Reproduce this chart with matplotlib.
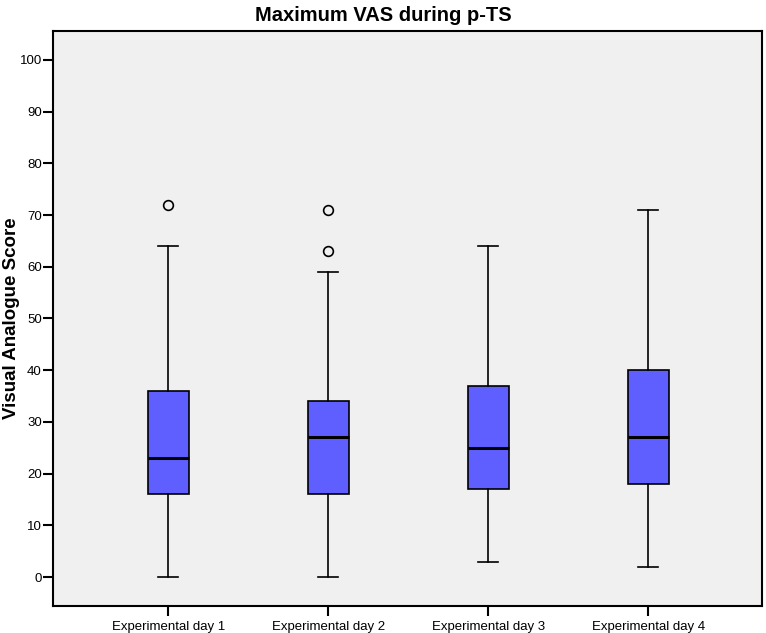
import matplotlib
matplotlib.use("Agg")
import matplotlib.pyplot as plt

plt.rcParams['font.family'] = ['Liberation Sans', 'DejaVu Sans']

# box plot summary values
days = ['Experimental day 1', 'Experimental day 2', 'Experimental day 3', 'Experimental day 4']
whisker_low = [0, 0, 3, 2]
q1 = [16, 16, 17, 18]
median = [23, 27, 25, 27]
q3 = [36, 34, 37, 40]
whisker_high = [64, 59, 64, 71]
outliers = [[72], [63, 71], [], []]

stats = []
for i in range(len(days)):
    stats.append({'label': days[i], 'whislo': whisker_low[i], 'q1': q1[i],
                  'med': median[i], 'q3': q3[i], 'whishi': whisker_high[i],
                  'fliers': outliers[i]})

fig = plt.figure(figsize=(7.66, 6.33), dpi=100)
ax = fig.add_axes([0.0692, 0.0427, 0.9256, 0.9083])
ax.set_facecolor('#F0F0F0')

ax.bxp(stats, positions=[1, 2, 3, 4], widths=0.256, patch_artist=True,
       boxprops=dict(facecolor='#5F5FFF', edgecolor='black', linewidth=1.2),
       medianprops=dict(color='black', linewidth=2.2),
       whiskerprops=dict(color='black', linewidth=1.2),
       capprops=dict(color='black', linewidth=1.2),
       capwidths=0.125,
       flierprops=dict(marker='o', markersize=7, markerfacecolor='none',
                       markeredgecolor='black', markeredgewidth=1.2))

ax.set_xlim(0.28, 4.71)
ax.set_ylim(-5.6, 105.6)
ax.set_yticks(range(0, 101, 10))
ax.tick_params(axis='both', direction='out', length=7, width=1.5, labelsize=9.5)
ax.tick_params(axis='y', pad=1)
for s in ax.spines.values():
    s.set_linewidth(1.5)

ax.set_ylabel('Visual Analogue Score', fontsize=13.5, fontweight='bold')
ax.yaxis.set_label_coords(-0.046, 0.5)
fig.suptitle('Maximum VAS during p-TS', x=0.5, y=0.99, fontsize=14.5, fontweight='bold')

fig.savefig('out.png', dpi=100)
